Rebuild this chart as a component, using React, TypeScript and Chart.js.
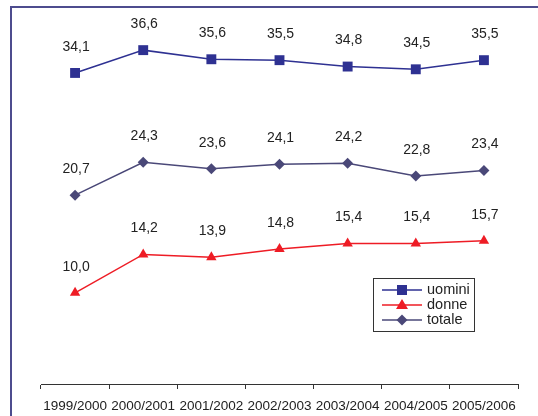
import React, { useEffect, useRef } from 'react';
import { Chart, registerables } from 'chart.js';

Chart.register(...registerables);

const categories = ['1999/2000', '2000/2001', '2001/2002', '2002/2003', '2003/2004', '2004/2005', '2005/2006'];
const seriesNames = ['uomini', 'donne', 'totale'];
const uomini = [34.1, 36.6, 35.6, 35.5, 34.8, 34.5, 35.5];
const donne = [10.0, 14.2, 13.9, 14.8, 15.4, 15.4, 15.7];
const totale = [20.7, 24.3, 23.6, 24.1, 24.2, 22.8, 23.4];

const colors = ['#2e3192', '#ee1c25', '#4a4878'];
const pointStyles = ['rect', 'triangle', 'rectRot'];
const pointRadii = [7, 6, 5.5];
const FONT = '"Liberation Sans", Arial, sans-serif';

function drawMarker(ctx: CanvasRenderingContext2D, style: string, x: number, y: number, color: string) {
  ctx.save();
  ctx.fillStyle = color;
  ctx.beginPath();
  if (style === 'rect') {
    ctx.rect(x - 5, y - 5, 10, 10);
  } else if (style === 'triangle') {
    ctx.moveTo(x, y - 6);
    ctx.lineTo(x + 6, y + 4);
    ctx.lineTo(x - 6, y + 4);
    ctx.closePath();
  } else {
    ctx.moveTo(x, y - 5.5);
    ctx.lineTo(x + 5.5, y);
    ctx.lineTo(x, y + 5.5);
    ctx.lineTo(x - 5.5, y);
    ctx.closePath();
  }
  ctx.fill();
  ctx.restore();
}

const framePlugin = {
  id: 'frame',
  beforeDraw(chart: any) {
    const ctx = chart.ctx;
    ctx.save();
    ctx.strokeStyle = '#4d4c8e';
    ctx.lineWidth = 2;
    ctx.beginPath();
    ctx.moveTo(11, 416);
    ctx.lineTo(11, 7);
    ctx.lineTo(538, 7);
    ctx.stroke();
    ctx.restore();
  },
};

const labelsPlugin = {
  id: 'valueLabels',
  afterDatasetsDraw(chart: any) {
    const ctx = chart.ctx;
    ctx.save();
    ctx.font = `14px ${FONT}`;
    ctx.fillStyle = '#222';
    ctx.textAlign = 'center';
    ctx.textBaseline = 'middle';
    chart.data.datasets.forEach((ds: any, i: number) => {
      const meta = chart.getDatasetMeta(i);
      meta.data.forEach((pt: any, j: number) => {
        const v = ds.data[j] as number;
        ctx.fillText(v.toFixed(1).replace('.', ','), pt.x + 1, pt.y - 26);
      });
    });
    ctx.restore();
  },
};

const legendPlugin = {
  id: 'customLegend',
  afterDraw(chart: any) {
    const ctx = chart.ctx;
    ctx.save();
    ctx.fillStyle = '#ffffff';
    ctx.fillRect(373.5, 278.5, 101, 53);
    ctx.strokeStyle = '#333';
    ctx.lineWidth = 1;
    ctx.strokeRect(373.5, 278.5, 101, 53);
    ctx.font = `14.5px ${FONT}`;
    ctx.textBaseline = 'middle';
    ctx.textAlign = 'left';
    chart.data.datasets.forEach((ds: any, i: number) => {
      const y = 290 + i * 15;
      ctx.strokeStyle = colors[i];
      ctx.lineWidth = 1.5;
      ctx.beginPath();
      ctx.moveTo(382, y);
      ctx.lineTo(422, y);
      ctx.stroke();
      drawMarker(ctx, pointStyles[i], 402, y, colors[i]);
      ctx.fillStyle = '#222';
      ctx.fillText(ds.label, 427, y);
    });
    ctx.restore();
  },
};

export default function App() {
  const ref = useRef<HTMLCanvasElement | null>(null);

  useEffect(() => {
    document.body.style.margin = '0';
    const canvas = ref.current;
    if (!canvas) return;
    const seriesData = [uomini, donne, totale];
    const chart = new Chart(canvas, {
      type: 'line',
      data: {
        labels: categories,
        datasets: seriesData.map((d, i) => ({
          label: seriesNames[i],
          data: d,
          borderColor: colors[i],
          backgroundColor: colors[i],
          borderWidth: 1.5,
          pointStyle: pointStyles[i] as any,
          pointRadius: pointRadii[i],
          pointBorderWidth: 0,
          pointBackgroundColor: colors[i],
          tension: 0,
          fill: false,
        })),
      },
      options: {
        responsive: false,
        animation: false,
        devicePixelRatio: 1,
        layout: { padding: { left: 41, right: 20, top: 10, bottom: 0 } },
        plugins: {
          legend: { display: false },
          tooltip: { enabled: false },
        },
        scales: {
          x: {
            type: 'category',
            offset: true,
            afterFit: (scale: any) => {
              scale.height = 32;
            },
            grid: {
              display: true,
              drawOnChartArea: false,
              drawTicks: true,
              offset: true,
              tickLength: 5,
              color: '#333',
            },
            border: { display: true, color: '#333', width: 1 },
            ticks: {
              color: '#222',
              font: { family: FONT, size: 13.5 },
              padding: 9,
              maxRotation: 0,
              autoSkip: false,
            },
          },
          y: {
            display: false,
            min: 0,
            max: 41,
          },
        },
      },
      plugins: [framePlugin, labelsPlugin, legendPlugin],
    });
    return () => chart.destroy();
  }, []);

  return (
    <div style={{ position: 'fixed', left: 0, top: 0, width: 538, height: 416, background: '#fff' }}>
      <canvas ref={ref} width={538} height={416} style={{ width: 538, height: 416, display: 'block' }} />
    </div>
  );
}
